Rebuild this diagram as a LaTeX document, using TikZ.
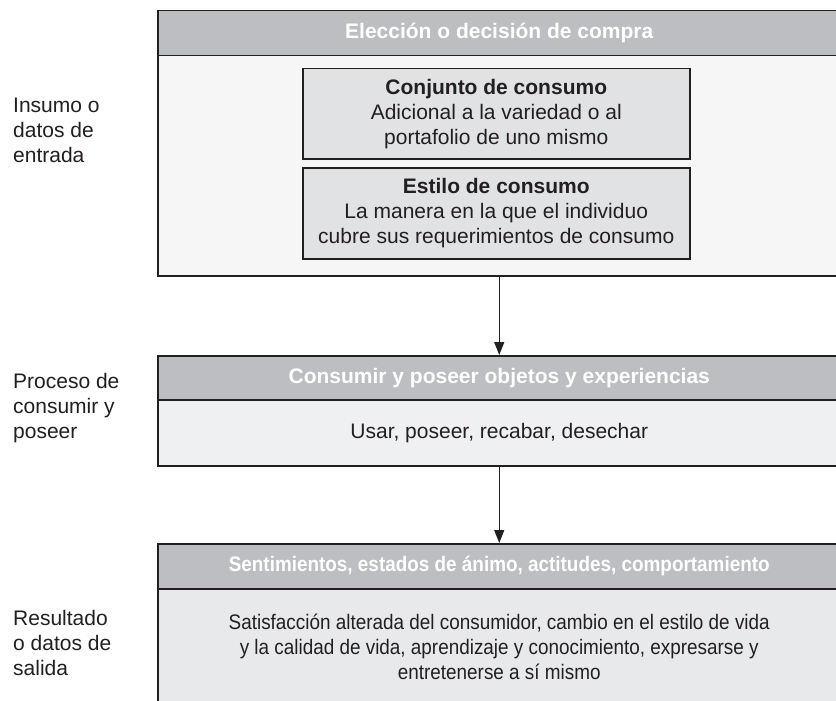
\documentclass[tikz,border=0pt]{standalone}
\usepackage{fontspec}
\setmainfont{Liberation Sans}
\newfontfamily\narrowsans{Liberation Sans}[FakeStretch=0.9]
\usetikzlibrary{arrows.meta,positioning}

\definecolor{inkdark}{HTML}{231F20}
\definecolor{headgray}{HTML}{BDBEC1}
\definecolor{topbody}{HTML}{F6F6F6}
\definecolor{subgray}{HTML}{E1E2E4}
\definecolor{midbody}{HTML}{EFF0F2}
\definecolor{lowbody}{HTML}{E8E9EB}

\tikzset{
  stagehead/.style={draw=inkdark, line width=1.5pt, fill=headgray, text=white,
    font=\fontsize{21}{25}\selectfont\bfseries, minimum width=683pt, inner sep=0pt, anchor=north west},
  stagebody/.style={draw=inkdark, line width=1.5pt, minimum width=683pt, inner sep=0pt,
    anchor=north west, align=center, text=inkdark},
  subbox/.style={draw=inkdark, line width=1.5pt, fill=subgray, minimum width=387pt,
    minimum height=90pt, inner sep=0pt, align=center, text=inkdark},
  sidelabel/.style={anchor=west, align=left, inner sep=0pt, text=inkdark},
  narrowtext/.style={font=\fontsize{21}{25}\selectfont\narrowsans},
}

\begin{document}
\begin{tikzpicture}[x=1pt, y=-1pt, every node/.style={font=\fontsize{21}{25}\selectfont},
  >={Triangle[length=13pt,width=10pt]}]
	\clip (0,0) rectangle (836,701);
	\fill[white] (0,0) rectangle (836,701);
	% input stage
	\node[stagebody, fill=topbody, minimum height=220pt] (choicebody) at (157,55) {};
	\node[stagehead, minimum height=45pt] (choicehead) at (157,10) {Elección o decisión de compra};
	\node[subbox, anchor=north west] (conjunto) at (302,68) {\textbf{Conjunto de consumo}\\Adicional a la variedad o al\\portafolio de uno mismo};
	\node[subbox, anchor=north west, minimum height=91pt] (estilo) at (302,167) {\textbf{Estilo de consumo}\\La manera en la que el individuo\\cubre sus requerimientos de consumo};
	% process stage
	\node[stagehead, minimum height=44pt] (usehead) at (157,355) {Consumir y poseer objetos y experiencias};
	\node[stagebody, fill=midbody, minimum height=66pt] (usebody) at (157,399) {Usar, poseer, recabar, desechar};
	% output stage
	\node[stagehead, minimum height=45pt, font=\fontsize{21}{25}\selectfont\narrowsans\bfseries] (outhead) at (157,543) {Sentimientos, estados de ánimo, actitudes, comportamiento};
	\node[stagebody, fill=lowbody, minimum height=116pt, narrowtext] (outbody) at (157,588) {Satisfacción alterada del consumidor, cambio en el estilo de vida\\y la calidad de vida, aprendizaje y conocimiento, expresarse y\\entretenerse a sí mismo};
	% side labels
	\node[sidelabel] (insumo) at (13,130) {Insumo o\\datos de\\entrada};
	\node[sidelabel] (proceso) at (13,408) {Proceso de\\consumir y\\poseer};
	\node[sidelabel] (resultado) at (13,643) {Resultado\\o datos de\\salida};
	% flow
	\draw[->, inkdark, line width=1.2pt] (choicebody.south) -- (usehead.north);
	\draw[->, inkdark, line width=1.2pt] (usebody.south) -- (outhead.north);
\end{tikzpicture}
\end{document}
